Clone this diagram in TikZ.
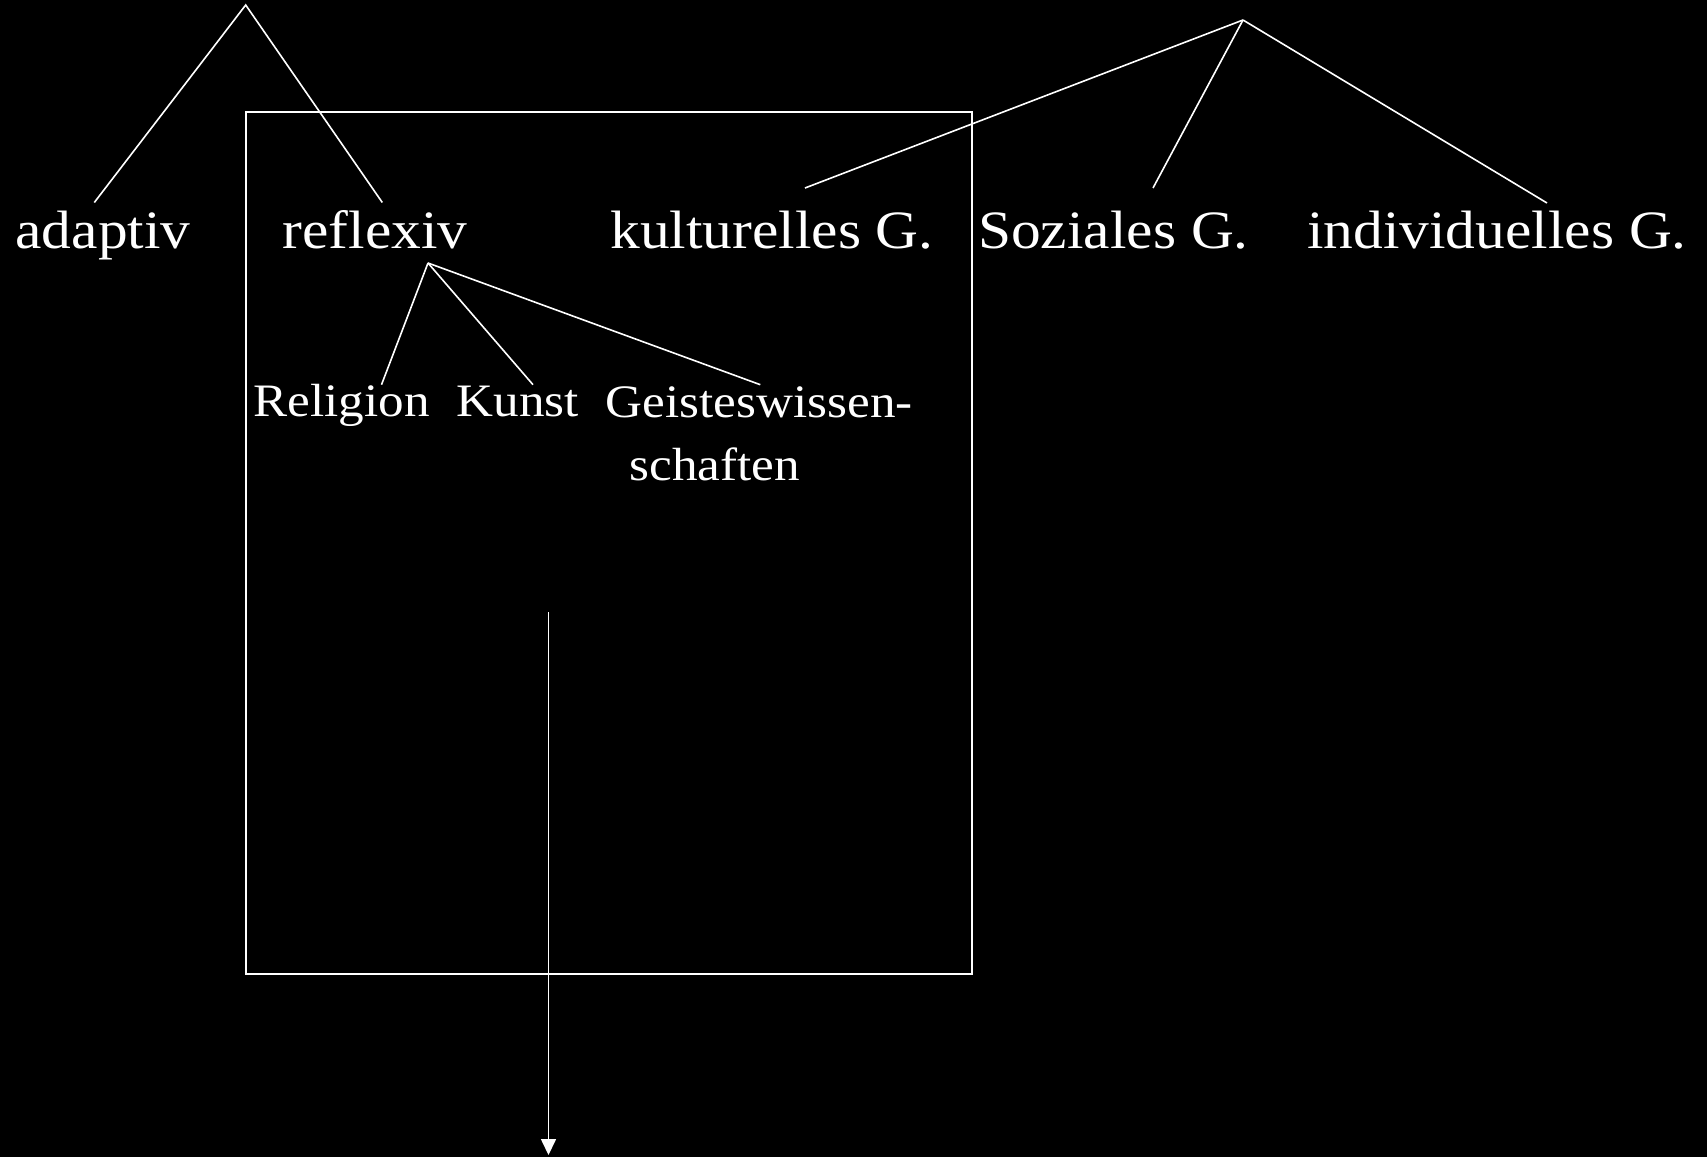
\documentclass[tikz,border=0pt]{standalone}
\usepackage{fontspec}
\setmainfont[FakeStretch=1.1]{Liberation Serif}
\usetikzlibrary{arrows.meta,calc}
\tikzset{
  big/.style={text=white,inner sep=0pt,anchor=base,font=\fontsize{54}{60}\selectfont},
  small/.style={text=white,inner sep=0pt,anchor=base,font=\fontsize{46.5}{63}\selectfont},
  branch/.style={draw=white,line width=1.6pt},
  frame/.style={draw=white,line width=1.8pt},
  flow/.style={draw=white,line width=1.6pt,-{Triangle[width=15pt,length=16pt]}}
}
\begin{document}
\begin{tikzpicture}[x=1pt,y=-1pt]
\path[fill=black,use as bounding box] (0,0) rectangle (1707,1157);
% frame
\draw[frame] (246,112) rectangle (972,974);
% top labels
\node[big] (adaptiv) at (103,248) {adaptiv};
\node[big] (reflexiv) at (375,248) {reflexiv};
\node[big] (kult) at (772,248) {kulturelles G.};
\node[big] (soz) at (1113.5,248) {Soziales G.};
\node[big] (indiv) at (1497,248) {individuelles G.};
% lower labels
\node[small] (religion) at (341.5,416.7) {Religion};
\node[small] (kunst) at (518,416.7) {Kunst};
\node[small,anchor=base west,align=left] (geist) at (605.6,480) {Geisteswissen-\\\hspace*{24pt}schaften};
% apices
\coordinate (apexL) at (245.7,5);
\coordinate (apexR) at (1243,20);
\coordinate (apexF) at ($(reflexiv.base)+(53,15)$);
% branches
\draw[branch] ($(adaptiv.base)+(-8.7,-45.5)$) -- (apexL) -- ($(reflexiv.base)+(7.3,-45.5)$);
\draw[branch] ($(kult.base)+(33,-60)$) -- (apexR);
\draw[branch] ($(soz.base)+(39.5,-60)$) -- (apexR);
\draw[branch] ($(indiv.base)+(50,-45)$) -- (apexR);
\draw[branch] ($(religion.base)+(40,-32)$) -- (apexF);
\draw[branch] ($(kunst.base)+(15,-32)$) -- (apexF);
\draw[branch] ($(geist.base west)+(154.7,-95.3)$) -- (apexF);
% arrow
\coordinate (arrS) at (548.5,612);
\coordinate (arrE) at (548.5,1155);
\draw[flow] (arrS) -- (arrE);
\end{tikzpicture}
\end{document}
